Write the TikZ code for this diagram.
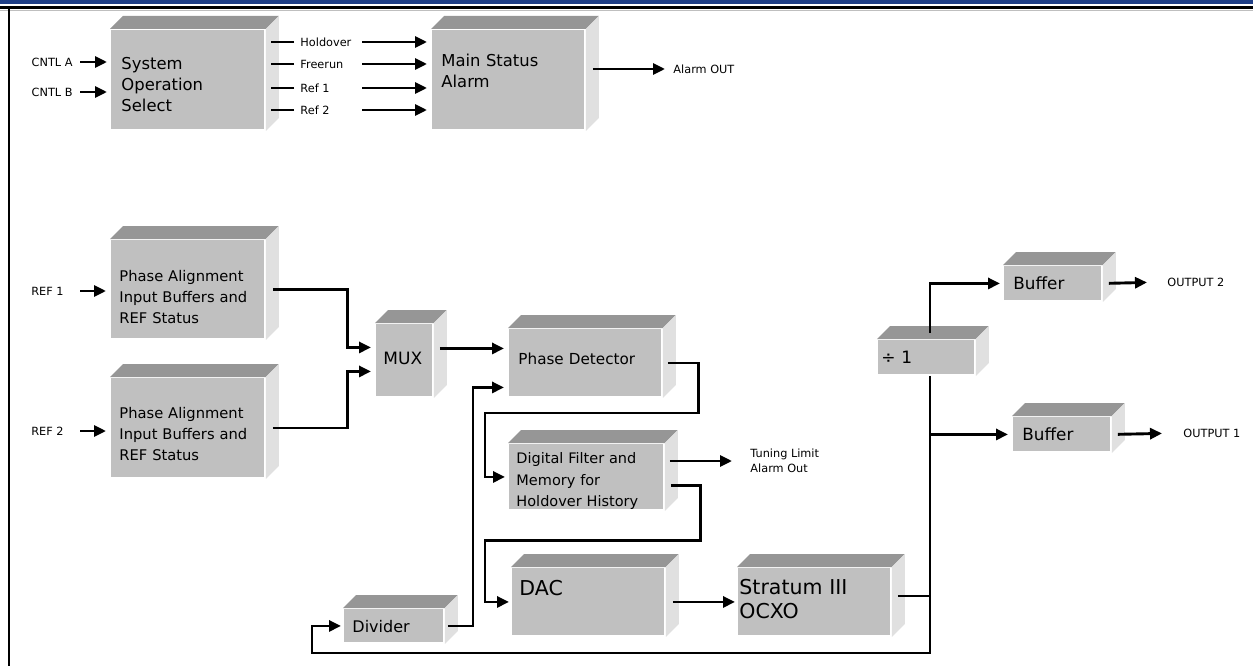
\documentclass[tikz,border=0pt]{standalone}
\usepackage{fontspec}
\setmainfont{DejaVu Sans}
\usetikzlibrary{arrows.meta, calc, positioning}
\definecolor{boxfront}{RGB}{192,192,192}
\definecolor{boxtop}{RGB}{150,150,150}
\definecolor{boxside}{RGB}{224,224,224}
\definecolor{band}{RGB}{31,63,135}

\begin{document}
\begin{tikzpicture}[x=1pt, y=-1pt,
  box/.style 2 args = {anchor=north west, fill=boxfront, inner ysep=0pt, inner xsep=8pt,
                       align=left, text width=#1, minimum height=#2},
  tup/.style     = {text height=0pt, text depth=#1},
  tdown/.style   = {text height=#1, text depth=0pt},
  fbig/.style    = {font=\fontsize{16.4}{21}\selectfont},
  fmid/.style    = {font=\fontsize{14.7}{21}\selectfont},
  flarge/.style  = {font=\fontsize{20.5}{24}\selectfont},
  lbl/.style     = {font=\fontsize{11.3}{15}\selectfont, inner sep=0pt},
  every path/.style = {line width=2.9pt},
  >={Triangle[length=12pt,width=11pt]}]

\path[use as bounding box] (0,0) rectangle (1253,666);

% frame of the page
\fill[band] (0,0) rectangle (1253,4.5);
\draw[gray!50, line width=1pt] (0,10.2) -- (1253,10.2);
\draw (0,7.8) -- (1253,7.8);
\draw (9,7) -- (9,666);

% the blocks, front faces
\node[box={133pt}{99pt}, inner xsep=10pt, fbig, tup=21.2pt] (sos) at (110,29) {System\\Operation\\Select};
\node[box={134pt}{99pt}, inner xsep=9pt, fbig, tup=27.2pt] (msa) at (431,29) {Main Status\\Alarm};
\node[box={137pt}{98pt}, fmid, tup=15.4pt] (pa1) at (110,239) {Phase Alignment\\Input Buffers and\\REF Status};
\node[box={137pt}{99pt}, fmid, tup=18.4pt] (pa2) at (110,377) {Phase Alignment\\Input Buffers and\\REF Status};
\node[box={42pt}{72pt}, inner xsep=7pt, font=\fontsize{17}{21}\selectfont, tdown=8.2pt] (mux) at (375,323) {MUX};
\node[box={134pt}{67pt}, inner xsep=9pt, font=\fontsize{15.2}{21}\selectfont, tdown=4pt] (pd) at (508,328) {Phase Detector};
\node[box={140pt}{65pt}, inner xsep=7pt, font=\fontsize{14.5}{21.5}\selectfont, tup=26.4pt] (df) at (508,443) {Digital Filter and\\Memory for\\Holdover History};
\node[box={138pt}{67pt}, inner xsep=7pt, flarge, tup=12.2pt] (dac) at (511,567) {DAC};
\node[box={150pt}{67pt}, inner xsep=1pt, flarge, tup=14.2pt] (ocxo) at (737,567) {Stratum III\\OCXO};
\node[box={83pt}{33pt}, font=\fontsize{16}{20}\selectfont, tdown=12.6pt] (div) at (343,608) {Divider};
\node[box={90pt}{34pt}, inner xsep=3pt, font=\fontsize{17}{20}\selectfont, tdown=12pt] (dv1) at (877,339) {÷ 1};
\node[box={79pt}{34pt}, inner xsep=9pt, font=\fontsize{16.8}{20}\selectfont, tdown=12pt] (buf2) at (1003,265) {Buffer};
\node[box={79pt}{34pt}, inner xsep=9pt, font=\fontsize{16.8}{20}\selectfont, tdown=12pt] (buf1) at (1012,416) {Buffer};

% top and side faces of every block
\foreach \b in {sos,msa,pa1,pa2,mux,pd,df,dac,ocxo,div,dv1,buf2,buf1} {
  \fill[boxtop] (\b.north west) -- ++(13,-13) -- ($(\b.north east)+(13,-13)$) -- (\b.north east) -- cycle;
  \fill[boxside] (\b.north east) -- ++(13,-13) -- ($(\b.south east)+(13,-13)$) -- (\b.south east) -- cycle;
}

% signal names
\begin{scope}[every node/.style=lbl]
\node[anchor=east] (cntla) at (74,62) {CNTL A};
\node[anchor=east] (cntlb) at (74,92) {CNTL B};
\node[anchor=west] (lhold) at (299,42) {Holdover};
\node[anchor=west] (lfree) at (299,64) {Freerun};
\node[anchor=west] (lref1) at (299,88) {Ref 1};
\node[anchor=west] (lref2) at (299,110) {Ref 2};
\node[anchor=west] (aout) at (672,69) {Alarm OUT};
\node[anchor=east] (inref1) at (65,291) {REF 1};
\node[anchor=east] (inref2) at (65,431) {REF 2};
\node[anchor=west, align=left] (tun) at (749,461) {Tuning Limit\\Alarm Out};
\node[anchor=west] (out2) at (1166,282) {OUTPUT 2};
\node[anchor=west] (out1) at (1182,433) {OUTPUT 1};
\end{scope}

%------------------------------------------- connectors -------------------------------------------
\draw[->, shorten <=6pt, shorten >=3pt] (cntla.east) -- (cntla.east -| sos.west);
\draw[->, shorten <=6pt, shorten >=3pt] (cntlb.east) -- (cntlb.east -| sos.west);

\foreach \s in {lhold,lfree,lref1,lref2} {
  \draw[shorten <=5pt, shorten >=5pt] (\s.west) -- (\s.west -| sos.east);
  \draw[->, shorten >=4pt] ($(\s.west -| msa.west)+(-69,0)$) -- (\s.west -| msa.west);
}

\draw[->, shorten <=7pt, shorten >=7pt] (aout.west -| msa.east) -- (aout.west);

\draw[->, shorten <=15pt, shorten >=4pt] (inref1.east) -- (inref1.east -| pa1.west);
\draw[->, shorten <=15pt, shorten >=4pt] (inref2.east) -- (inref2.east -| pa2.west);

\draw[->, shorten <=7pt, shorten >=4pt] (pa1.east) -- ++(82,0) |- ($(mux.west)+(0,-13)$);
\draw[->, shorten <=7pt, shorten >=4pt] (pa2.east) -- ++(82,0) |- ($(mux.west)+(0,11)$);

\draw[->, shorten <=6pt, shorten >=4pt] ($(mux.east)+(0,-12)$) -- ($(pd.west)+(0,-14.5)$);
\draw[->, shorten <=5pt, shorten >=3pt] (pd.east) -- ++(36,0) -- ++(0,50) -| ($(df.west)+(-23,0)$) -- (df.west);
\draw[->, shorten <=5pt, shorten >=17pt] (df.east |- tun.west) -- (tun.west);
\draw[->, shorten <=6pt, shorten >=2pt] ($(df.east)+(0,8.5)$) -- ++(36,0) -- ++(0,55) -| ($(dac.west)+(-26,0)$) -- (dac.west);
\draw[->, shorten <=7pt, shorten >=2pt] (dac.east) -- (ocxo.west);

% output trunk and feedback
\coordinate (trunk) at (930,0);
\coordinate (fb) at (312,653);
\draw[shorten <=6pt] ($(ocxo.east)+(0,-6)$) -- ($(ocxo.east -| trunk)+(0,-6)$);
\draw[->, shorten >=3pt] ($(dv1.north -| trunk)+(0,-6)$) |- (buf2.west);
\draw[->, shorten >=4pt] (trunk |- buf1.west) -- (buf1.west);
\draw[->, shorten >=2pt] (dv1.south -| trunk) -- (trunk |- fb) -- (fb) |- (div.west);
\draw[->, shorten <=3pt, shorten >=4pt] (div.east) -| ($(pd.west)+(-35,24.5)$) -- ($(pd.west)+(0,24.5)$);

\draw[->, shorten <=6pt, shorten >=19pt] (buf2.east) -- (out2.west);
\draw[->, shorten <=6pt, shorten >=20pt] (buf1.east) -- (out1.west);

\end{tikzpicture}
\end{document}
